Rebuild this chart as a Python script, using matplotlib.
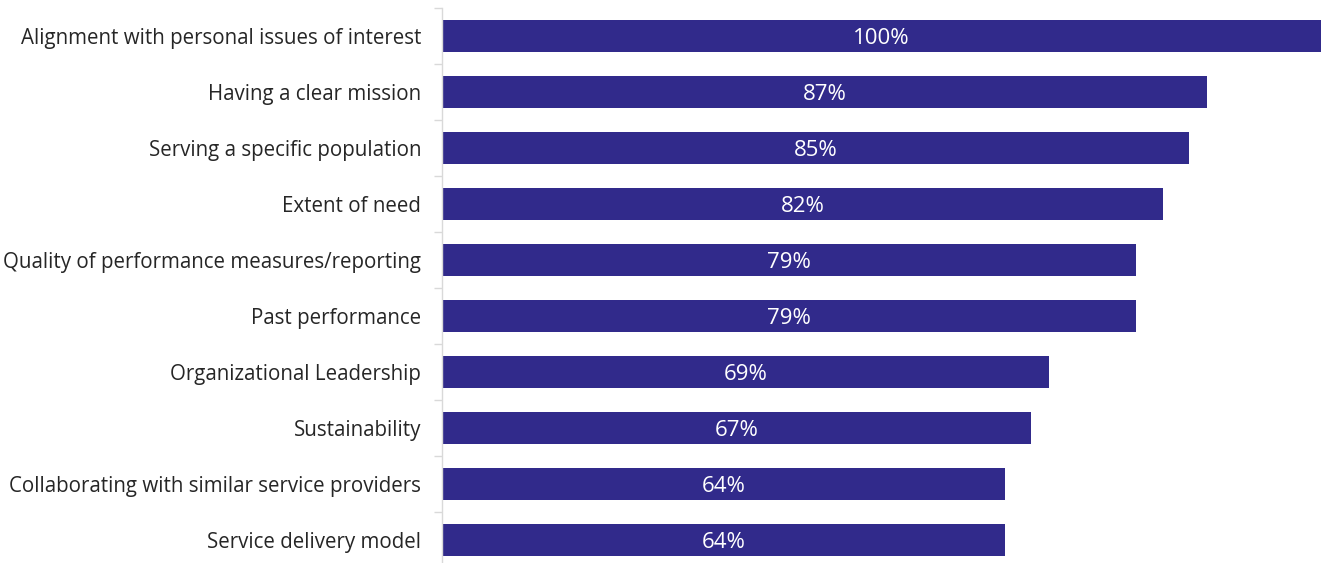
import numpy as np
import matplotlib.pyplot as plt

categories = [
    'Alignment with personal issues of interest',
    'Having a clear mission',
    'Serving a specific population',
    'Extent of need',
    'Quality of performance measures/reporting',
    'Past performance',
    'Organizational Leadership',
    'Sustainability',
    'Collaborating with similar service providers',
    'Service delivery model',
]
values = [100, 87, 85, 82, 79, 79, 69, 67, 64, 64]

bar_color = '#312a8b'
plt.rcParams['font.family'] = ['Open Sans', 'DejaVu Sans']

fig = plt.figure(figsize=(13.22, 5.63), dpi=100)
ax = fig.add_axes([442 / 1322, -5 / 563, 879 / 1322, 560 / 563])

y = np.arange(len(categories))
ax.barh(y, values, height=0.57, color=bar_color)
for yi, v in zip(y, values):
    ax.text(v / 2, yi, f'{v}%', ha='center', va='center_baseline',
            color='white', fontsize=16)

ax.set_xlim(0, 100)
ax.set_ylim(len(categories) - 0.5, -0.5)
ax.set_yticks(y)
ax.set_yticklabels(categories, fontsize=14.8, color='#262626')
ax.tick_params(axis='y', which='major', length=0, pad=15)
ax.set_yticks(np.arange(len(categories) + 1) - 0.5, minor=True)
ax.tick_params(axis='y', which='minor', length=6, width=1, color='#d9d9d9')
ax.set_xticks([])

for side in ['top', 'right', 'bottom']:
    ax.spines[side].set_visible(False)
ax.spines['left'].set_color('#d9d9d9')
ax.spines['left'].set_linewidth(1)

fig.savefig('out.png', dpi=100)
